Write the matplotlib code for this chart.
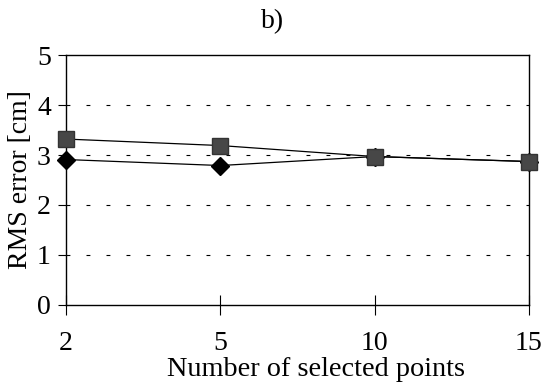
import matplotlib.pyplot as plt

# data
categories = ['2', '5', '10', '15']
diamond_vals = [2.91, 2.79, 2.97, 2.87]
square_vals = [3.32, 3.19, 2.97, 2.87]
y_ticks = [0, 1, 2, 3, 4, 5]

plt.rcParams['font.family'] = 'Liberation Serif'

fig = plt.figure(figsize=(5.55, 3.83), dpi=100)
ax = fig.add_axes([0.119, 0.204, 0.834, 0.652])

x = list(range(len(categories)))

# dotted horizontal grid
for yv in y_ticks[1:-1]:
    ax.axhline(yv, color='black', linewidth=0.8, linestyle=(0, (3.5, 14.5)), zorder=1)

ax.plot(x, diamond_vals, color='black', linewidth=0.9, marker='D', markersize=9,
        markerfacecolor='black', markeredgecolor='black', clip_on=False, zorder=3)
ax.plot(x, square_vals, color='black', linewidth=0.9, marker='s', markersize=11.5,
        markerfacecolor='#474747', markeredgecolor='#333333', clip_on=False, zorder=4)

ax.set_xlim(0, len(categories) - 1)
ax.set_ylim(0, 5)
ax.set_xticks(x)
ax.set_xticklabels(categories)
ax.set_yticks(y_ticks)

for side in ['left', 'right', 'top', 'bottom']:
    ax.spines[side].set_linewidth(1.0)
ax.tick_params(axis='y', direction='out', length=6, width=0.8, labelsize=20, pad=5)
ax.tick_params(axis='x', direction='inout', length=14, width=0.8, labelsize=20, pad=12)

ax.set_ylabel('RMS error [cm]', fontsize=20, labelpad=3)
ax.set_xlabel('Number of selected points', fontsize=20.3)
ax.xaxis.set_label_coords(0.54, -0.21)

fig.text(273 / 555, 1 - 22 / 383, 'b)', fontsize=20, ha='center', va='center')

plt.savefig('out.png', dpi=100)
